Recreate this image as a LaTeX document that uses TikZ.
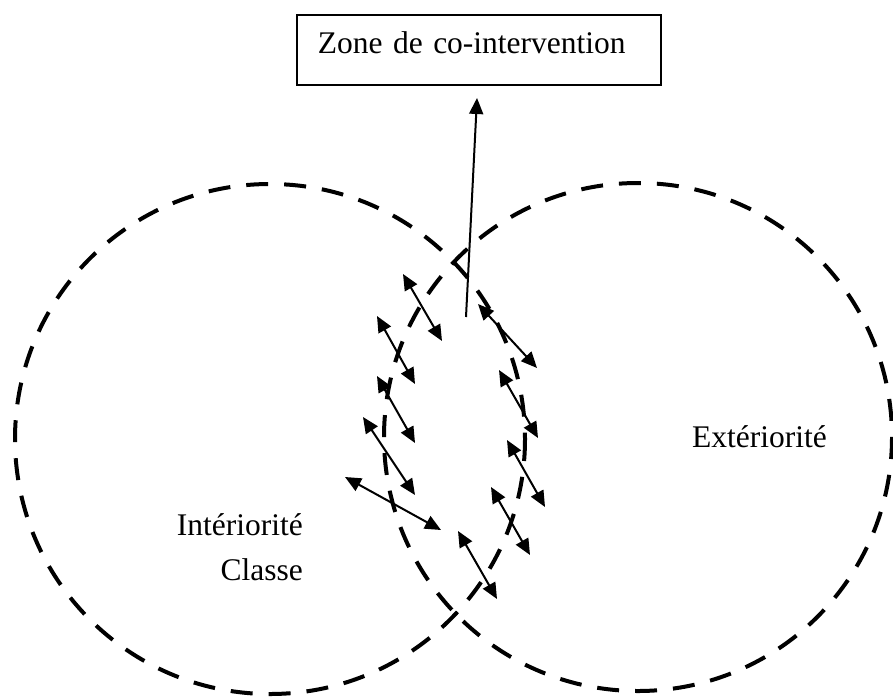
\documentclass[tikz,border=0pt]{standalone}
\usepackage{fontspec}
\setmainfont{Liberation Serif}
\usetikzlibrary{arrows.meta}
\begin{document}
\begin{tikzpicture}[x=1pt,y=-1pt,
  zonecircle/.style={line width=4pt,dash pattern=on 22pt off 16pt},
  dbl/.style={line width=2pt,{Triangle[length=16pt,width=14pt]}-{Triangle[length=16pt,width=14pt]}},
  single/.style={line width=2pt,-{Triangle[length=16pt,width=14pt]}},
  lbl/.style={inner sep=0pt,font=\fontsize{31.5}{38}\selectfont}]
\useasboundingbox (0,0) rectangle (893,699);
% circles
\draw[zonecircle] (270,439) ellipse [x radius=255, y radius=255];
\draw[zonecircle] (638,437) ellipse [x radius=254, y radius=254];
% box
\node[draw,line width=1.6pt,anchor=north west,inner xsep=21pt,inner ysep=9pt,
  text width=322pt,align=left,text height=30pt,text depth=22pt,
  font=\fontsize{31.5}{38}\selectfont] (zone) at (296,14) {Zone de co-intervention};
\coordinate (s) at (466,317);
\coordinate (t) at (477,98);
\draw[single] (s) -- (t);
% labels
\node[lbl,anchor=base east] (int) at (303,535) {Intériorité};
\node[lbl,anchor=base east] (cls) at (303,580) {Classe};
\node[lbl,anchor=base west] (ext) at (692,447) {Extériorité};
% double arrows
\foreach \n/\ax/\ay/\bx/\by in {
  a1/403/274/442/341,
  a2/377/316/415/384,
  a3/377/376/415/443,
  a4/363/417/415/495,
  a5/345/477/441/530,
  a6/458/531/497/599,
  a7/478/304/537/368,
  a8/499/370/538/438,
  a9/507/440/545/507,
  a10/491/487/530/555}{
  \coordinate (\n s) at (\ax,\ay);
  \coordinate (\n e) at (\bx,\by);
  \draw[dbl] (\n s) -- (\n e);
}
\end{tikzpicture}
\end{document}
